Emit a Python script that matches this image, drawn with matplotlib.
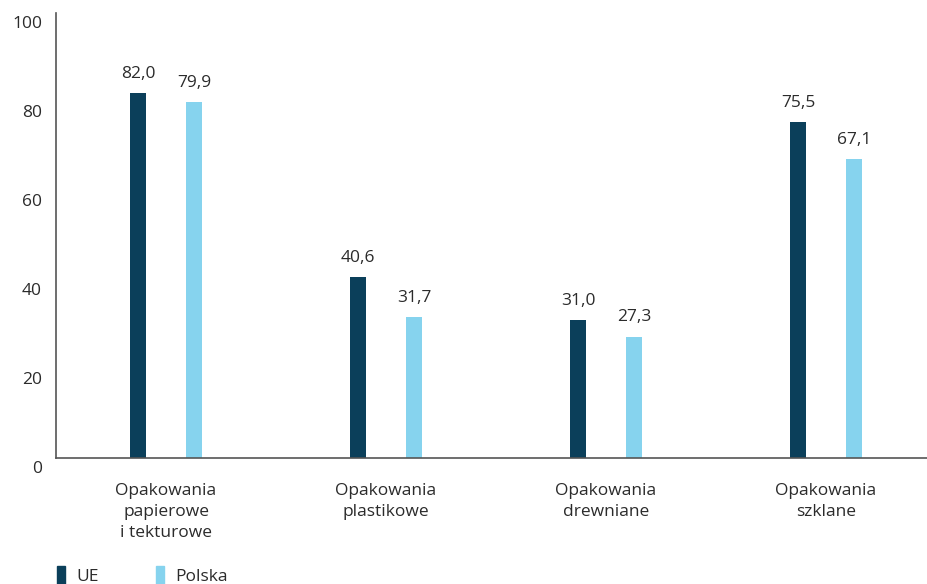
import numpy as np
import matplotlib.pyplot as plt
from matplotlib.patches import Patch
from matplotlib.transforms import ScaledTranslation

# recycling rates by packaging type, EU vs Poland
categories = ['Opakowania\npapierowe\ni tekturowe', 'Opakowania\nplastikowe',
              'Opakowania\ndrewniane', 'Opakowania\nszklane']
ue = [82.0, 40.6, 31.0, 75.5]
polska = [79.9, 31.7, 27.3, 67.1]
yticks = [0, 20, 40, 60, 80, 100]

dark = '#0b3f5a'
light = '#86d3ee'
txt = '#2b2b2b'

plt.rcParams['font.family'] = ['Open Sans', 'DejaVu Sans']

fig = plt.figure(figsize=(9.28, 5.84), dpi=100)
ax = fig.add_axes([56/928, 1-458/584, 1-56/928, (458-13)/584])

x = np.arange(len(categories))
off = 0.127
w = 0.073
b1 = ax.bar(x - off, ue, width=w, color=dark)
b2 = ax.bar(x + off, polska, width=w, color=light)

fmt = lambda v: f'{v:.1f}'.replace('.', ',')
ax.bar_label(b1, labels=[fmt(v) for v in ue], padding=8, fontsize=12.5, color=txt)
ax.bar_label(b2, labels=[fmt(v) for v in polska], padding=8, fontsize=12.5, color=txt)

ax.set_xlim(-0.5, 3.4636)
ax.set_ylim(0, 100)
ax.set_yticks(yticks)
ax.set_yticklabels([str(t) for t in yticks], fontsize=12.5, color=txt, va='top')
ax.set_xticks(x)
ax.set_xticklabels(categories, fontsize=12.5, color=txt, linespacing=1.42)
ax.tick_params(axis='both', length=0)
ax.tick_params(axis='y', pad=10)
ax.tick_params(axis='x', pad=18)

# nudge the y labels a little below their gridline position
shift = ScaledTranslation(0, -3/100, fig.dpi_scale_trans)
for lab in ax.get_yticklabels():
    lab.set_transform(lab.get_transform() + shift)

for s in ['top', 'right']:
    ax.spines[s].set_visible(False)
for s in ['left', 'bottom']:
    ax.spines[s].set_color('#555555')
    ax.spines[s].set_linewidth(1.2)

handles = [Patch(color=dark, label='UE'), Patch(color=light, label='Polska')]
fig.legend(handles=handles, loc='lower left', bbox_to_anchor=(56/928, -0.003),
           ncol=2, frameon=False, fontsize=12.5, handlelength=0.45, handleheight=1.3,
           columnspacing=3.3, handletextpad=0.65, labelcolor=txt,
           borderpad=0.05, borderaxespad=0)

fig.savefig('out.png', dpi=100)
